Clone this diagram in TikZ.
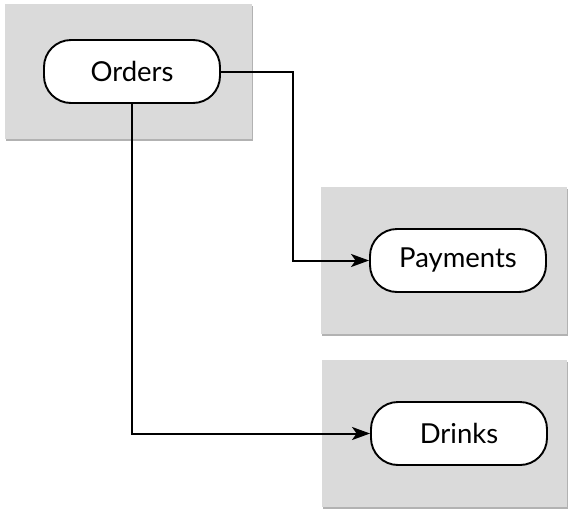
\documentclass[tikz,border=0pt]{standalone}
\usepackage{fontspec}
\setmainfont{Lato}
\usetikzlibrary{arrows.meta,shadows,calc}
\definecolor{groupgray}{HTML}{DADADA}
\tikzset{
  x=1pt,y=-1pt,
  group/.style={fill=groupgray,draw=none,drop shadow={shadow xshift=0.8pt,shadow yshift=-2.4pt,opacity=0.5,fill=black!60}},
  pill/.style={draw=black,line width=1.9pt,fill=white,rounded corners=27pt,minimum width=176pt,minimum height=63pt,font=\fontsize{27.5}{30}\selectfont,inner sep=0pt},
  conn/.style={draw=black,line width=2pt,-{Stealth[length=18pt,width=13pt,inset=4.5pt]}}
}
\begin{document}
\begin{tikzpicture}
\useasboundingbox (0,0) rectangle (574,520);
\path[group] (5,4) rectangle (252,139);
\path[group] (321,187) rectangle (567,334);
\path[group] (322,360) rectangle (567,507);
\node[pill] (orders) at (132,71.5) {Orders};
\node[pill] (payments) at (458,260.5) {Payments};
\node[pill] (drinks) at (459,433.5) {Drinks};
\coordinate (b1) at (293,71.5);
\draw[conn] (orders.east) -- (b1) |- (payments.west);
\draw[conn] (orders.south) |- (drinks.west);
\end{tikzpicture}
\end{document}
